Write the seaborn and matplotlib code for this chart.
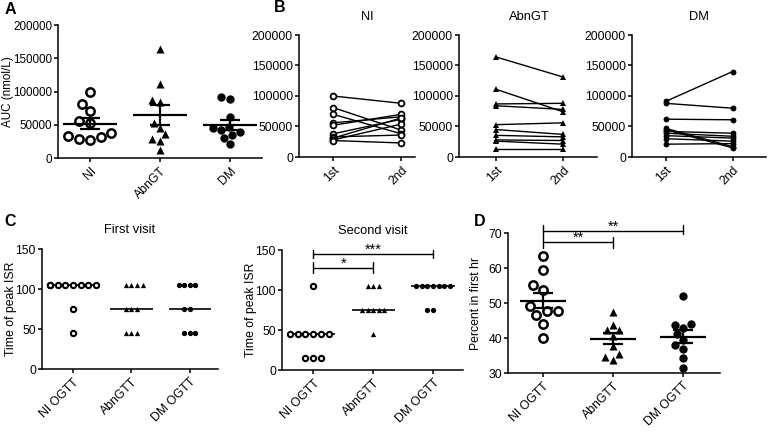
import numpy as np
import pandas as pd
import matplotlib
matplotlib.use("Agg")
import matplotlib.pyplot as plt
import seaborn as sns

# ---------------- data ----------------
groups_A = ["NI", "AbnGT", "DM"]
visits = ["1st", "2nd"]
ni_1st = [100000, 81000, 70000, 56000, 52000, 38000, 33000, 31000, 28000, 27000]
ni_2nd = [88000, 44000, 38000, 66000, 70000, 62000, 36000, 64000, 54000, 23000]
abn_1st = [164000, 111000, 87000, 84000, 53000, 45000, 35500, 28000, 26000, 12600]
abn_2nd = [131000, 74000, 88000, 78000, 56000, 37000, 33000, 27000, 21000, 12600]
dm_1st = [91000, 88000, 62000, 47000, 45000, 42000, 39000, 35000, 30000, 21000]
dm_2nd = [140000, 80000, 61000, 17000, 15000, 39000, 34000, 31000, 26000, 22000]

groups_C = ["NI OGTT", "AbnGTT", "DM OGTT"]
c1_ni = [105] * 8 + [75, 45]
c1_abn = [105] * 4 + [75] * 3 + [45] * 3
c1_dm = [105] * 4 + [75] * 2 + [45] * 3
c2_ni = [105] + [45] * 6 + [15] * 3
c2_abn = [105] * 3 + [75] * 5 + [45]
c2_dm = [105] * 7 + [75] * 2

d_ni = [63.5, 59.5, 55.2, 53.7, 49.2, 47.6, 47.6, 46.6, 44.1, 40.1]
d_abn = [47.4, 43.8, 42.2, 42.2, 40.7, 37.6, 35.4, 34.5, 33.8]
d_dm = [52.0, 44.0, 43.6, 42.9, 41.2, 39.5, 38.1, 36.9, 34.3, 31.4]

# ---------------- style ----------------
sns.set_theme(style="ticks")
plt.rcParams["font.family"] = ["Liberation Sans", "DejaVu Sans"]
for key in ["text.color", "axes.labelcolor", "xtick.color", "ytick.color",
            "xtick.labelcolor", "ytick.labelcolor", "axes.edgecolor"]:
    plt.rcParams[key] = "black"
plt.rcParams["axes.linewidth"] = 1.1
plt.rcParams["xtick.major.width"] = 1.1
plt.rcParams["ytick.major.width"] = 1.1
plt.rcParams["xtick.major.size"] = 3.2
plt.rcParams["ytick.major.size"] = 3.2
FS = 8.8

W, H = 770, 440
fig = plt.figure(figsize=(W / 100, H / 100), dpi=100)


def ax_at(l, r, t, b):
    return fig.add_axes([l / W, 1 - b / H, (r - l) / W, (b - t) / H])


def finish(ax, labels, yfs=FS):
    sns.despine(ax=ax)
    ax.set_xlabel("")
    ax.set_ylabel("")
    ax.set_xticks(range(len(labels)))
    ax.set_xticklabels(labels, rotation=45, ha="right", rotation_mode="anchor", fontsize=FS)
    ax.tick_params(axis="y", labelsize=yfs, pad=1.2)
    ax.tick_params(axis="x", pad=2)


def ylab(ax, text, px, box, fs=FS):
    # px = right edge of the rotated label, in figure pixels
    l, r = box[0], box[1]
    ax.set_ylabel(text, fontsize=fs)
    ax.yaxis.set_label_coords((px - l) / (r - l), 0.5)


styles = [
    dict(marker="o", color="white", edgecolor="black", linewidth=1.8),
    dict(marker="^", color="black", edgecolor="black", linewidth=0),
    dict(marker="o", color="black", edgecolor="black", linewidth=0),
]

# ---------------- Panel A ----------------
boxA = (58, 262, 25, 158)
axA = ax_at(*boxA)
first_all = [ni_1st, abn_1st, dm_1st]
sizesA = [6.0, 5.8, 6.0]
for i, vals in enumerate(first_all):
    sns.swarmplot(x=[groups_A[i]] * len(vals), y=vals, order=groups_A, ax=axA,
                  size=sizesA[i], warn_thresh=1, **styles[i])
for i, vals in enumerate(first_all):
    v = np.array(vals, float)
    m = v.mean()
    se = v.std(ddof=1) / np.sqrt(len(v))
    axA.hlines(m, i - 0.39, i + 0.39, color="black", lw=1.6, zorder=5)
    axA.errorbar(i, m, yerr=se, fmt="none", ecolor="black", elinewidth=1.6,
                 capsize=7, capthick=1.6, zorder=5)
axA.set_xlim(-0.46, 2.46)
axA.set_ylim(0, 200000)
axA.set_yticks([0, 50000, 100000, 150000, 200000])
finish(axA, groups_A, yfs=8.4)
ylab(axA, "AUC (nmol/L)", 14, boxA, fs=8.4)

# ---------------- Panel B ----------------
pairs = [(ni_1st, ni_2nd), (abn_1st, abn_2nd), (dm_1st, dm_2nd)]
boxes = [(299, 415, 35, 157), (459, 597, 35, 157), (632, 766, 35, 157)]
xlims = [(-0.5, 1.2), (-0.55, 1.5), (-0.5, 1.5)]
line_mk = [
    dict(marker="o", markersize=4.2, markerfacecolor="white", markeredgecolor="black", markeredgewidth=1.3),
    dict(marker="^", markersize=4.0, markerfacecolor="black", markeredgecolor="black", markeredgewidth=0),
    dict(marker="o", markersize=4.2, markerfacecolor="black", markeredgecolor="black", markeredgewidth=0),
]
for i, ((a, b), box) in enumerate(zip(pairs, boxes)):
    ax = ax_at(*box)
    n = len(a)
    df = pd.DataFrame({
        "subject": list(range(n)) * 2,
        "visit": [visits[0]] * n + [visits[1]] * n,
        "value": list(a) + list(b),
    })
    df["visit_pos"] = df["visit"].map({v: k for k, v in enumerate(visits)})
    sns.lineplot(data=df, x="visit_pos", y="value", units="subject", estimator=None,
                 color="black", lw=1.0, ax=ax, **line_mk[i])
    ax.set_xlim(*xlims[i])
    ax.set_ylim(0, 200000)
    ax.set_yticks([0, 50000, 100000, 150000, 200000])
    finish(ax, visits)
    ax.text(0.5, 1.15, groups_A[i], transform=ax.get_xaxis_transform(),
            ha="center", va="center", fontsize=FS + 0.5)

# ---------------- Panel C ----------------
c_sets = [[c1_ni, c1_abn, c1_dm], [c2_ni, c2_abn, c2_dm]]
c_boxes = [(42, 218, 249, 369), (282, 463, 250, 370)]
c_ylab_px = [17, 257]
c_xlims = [(-0.53, 2.48), (-0.52, 2.5)]
c_titles = ["First visit", "Second visit"]
c_styles = [
    dict(marker="o", color="white", edgecolor="black", linewidth=1.5),
    dict(marker="^", color="black", edgecolor="black", linewidth=0),
    dict(marker="o", color="black", edgecolor="black", linewidth=0),
]
axC = []
for k in range(2):
    ax = ax_at(*c_boxes[k])
    axC.append(ax)
    for i, vals in enumerate(c_sets[k]):
        sns.swarmplot(x=[groups_C[i]] * len(vals), y=vals, order=groups_C, ax=ax,
                      size=3.8, warn_thresh=1, **c_styles[i])
        med = np.median(vals)
        ax.hlines(med, i - 0.36, i + 0.36, color="black", lw=1.2, zorder=0.5)
    ax.set_xlim(*c_xlims[k])
    ax.set_ylim(0, 150)
    ax.set_yticks([0, 50, 100, 150])
    finish(ax, groups_C)
    ylab(ax, "Time of peak ISR", c_ylab_px[k], c_boxes[k])
    ax.text(0.5, 1.16, c_titles[k], transform=ax.transAxes, ha="center", va="center",
            fontsize=FS + 0.5)


def bracket(ax, x0, x1, y, cap, text, ty):
    ax.plot([x0, x1], [y, y], color="black", lw=1.0, clip_on=False)
    ax.plot([x0, x0], [y - cap, y + cap], color="black", lw=1.0, clip_on=False)
    ax.plot([x1, x1], [y - cap, y + cap], color="black", lw=1.0, clip_on=False)
    ax.text((x0 + x1) / 2, ty, text, ha="center", va="center", fontsize=FS + 1.5, clip_on=False)


bracket(axC[1], 0, 2, 145, 5, "***", 150)
bracket(axC[1], 0, 1, 128, 7, "*", 133)

# ---------------- Panel D ----------------
boxD = (508, 720, 233, 373)
axD = ax_at(*boxD)
d_all = [d_ni, d_abn, d_dm]
sizesD = [6.0, 5.8, 6.0]
for i, vals in enumerate(d_all):
    sns.swarmplot(x=[groups_C[i]] * len(vals), y=vals, order=groups_C, ax=axD,
                  size=sizesD[i], warn_thresh=1, **styles[i])
for i, vals in enumerate(d_all):
    v = np.array(vals, float)
    m = v.mean()
    se = v.std(ddof=1) / np.sqrt(len(v))
    axD.hlines(m, i - 0.33, i + 0.33, color="black", lw=1.6, zorder=5)
    axD.errorbar(i, m, yerr=se, fmt="none", ecolor="black", elinewidth=1.6,
                 capsize=7.5, capthick=1.6, zorder=5)
axD.set_xlim(-0.5, 2.53)
axD.set_ylim(30, 70)
axD.set_yticks([30, 40, 50, 60, 70])
finish(axD, groups_C)
ylab(axD, "Percent in first hr", 482, boxD)
# brackets in D
axD.plot([0, 2], [70.6, 70.6], color="black", lw=1.0, clip_on=False)
axD.plot([0, 0], [69.0, 72.4], color="black", lw=1.0, clip_on=False)
axD.plot([2, 2], [69.6, 72.4], color="black", lw=1.0, clip_on=False)
axD.text(1, 71.7, "**", ha="center", va="center", fontsize=FS + 1.5, clip_on=False)
axD.plot([0, 1], [67.4, 67.4], color="black", lw=1.0, clip_on=False)
axD.plot([0, 0], [65.6, 69.0], color="black", lw=1.0, clip_on=False)
axD.plot([1, 1], [65.6, 68.8], color="black", lw=1.0, clip_on=False)
axD.text(0.5, 68.5, "**", ha="center", va="center", fontsize=FS + 1.5, clip_on=False)

# ---------------- panel letters ----------------
for lab, x, y in [("A", 10, 9), ("B", 280, 8), ("C", 10, 221), ("D", 480, 221)]:
    fig.text(x / W, 1 - y / H, lab, fontsize=11.5, fontweight="bold", ha="center", va="center")

fig.savefig("out.png", dpi=100)
